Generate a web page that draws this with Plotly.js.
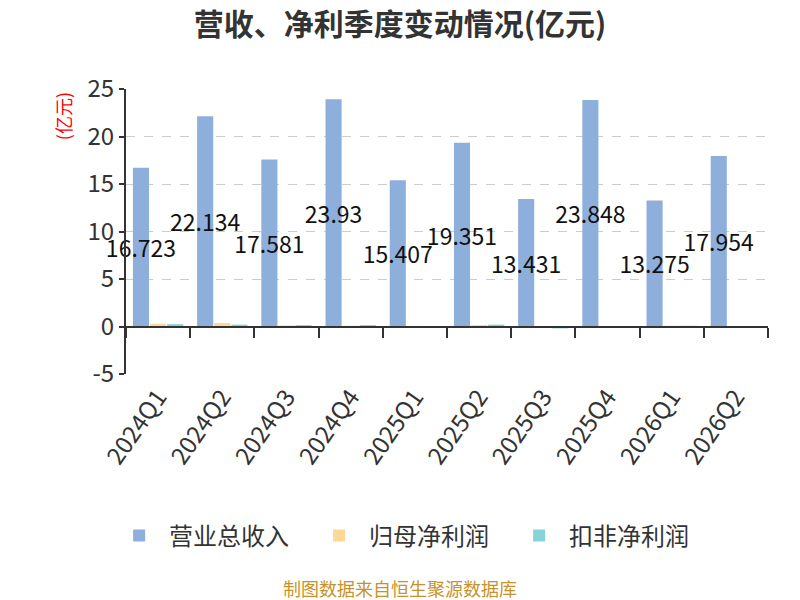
<!DOCTYPE html>
<html>
<head>
<meta charset="utf-8">
<script src="https://cdn.plot.ly/plotly-3.0.1.min.js"></script>
<style>
  html, body { margin: 0; padding: 0; background: #fff; }
  #chart { width: 800px; height: 600px; }
</style>
</head>
<body>
<div id="chart"></div>
<script>
// quarters and values (亿元)
const quarters = ['2024Q1', '2024Q2', '2024Q3', '2024Q4', '2025Q1', '2025Q2', '2025Q3', '2025Q4', '2026Q1', '2026Q2'];
const revenue = [16.723, 22.134, 17.581, 23.93, 15.407, 19.351, 13.431, 23.848, 13.275, 17.954];
const netProfit = [0.28, 0.36, 0.12, 0.08, 0.06, 0.15, -0.15, 0.05, 0.08, 0.02];
const deductedProfit = [0.25, 0.2, 0.15, 0.15, -0.05, 0.2, -0.2, -0.1, 0.08, 0.05];
const yTicks = [-5, 0, 5, 10, 15, 20, 25];
const yTickText = ['-5', '0', '5', '10', '15', '20', '25'];

const font = '"Noto Sans CJK SC", "Noto Sans", sans-serif';

const data = [
  {
    type: 'bar', name: '营业总收入', x: quarters, y: revenue,
    marker: { color: '#8eaedc' },
    text: revenue.map(String), textposition: 'inside', insidetextanchor: 'middle',
    constraintext: 'none', textangle: 0,
    textfont: { color: '#111', size: 23, family: font },
    cliponaxis: false
  },
  {
    type: 'bar', name: '归母净利润', x: quarters, y: netProfit,
    marker: { color: '#fdd898' }
  },
  {
    type: 'bar', name: '扣非净利润', x: quarters, y: deductedProfit,
    marker: { color: '#87d4d8' }
  }
];

const layout = {
  width: 800, height: 600,
  paper_bgcolor: '#fff', plot_bgcolor: '#fff',
  font: { family: font, color: '#333' },
  margin: { l: 126, r: 32, t: 89, b: 226 },
  title: {
    text: '<b>营收、净利季度变动情况(亿元)</b>',
    font: { size: 30, color: '#333', family: font },
    x: 0.5, xanchor: 'center', y: 0.96, yanchor: 'middle'
  },
  barmode: 'group', bargap: 0.2, bargroupgap: 0.06,
  xaxis: {
    type: 'category', categoryarray: quarters,
    anchor: 'free', position: 5 / 30,
    showline: true, linecolor: '#333', linewidth: 2,
    ticks: 'outside', tickson: 'boundaries', ticklen: 10, tickcolor: '#333', tickwidth: 2,
    tickangle: -55, tickfont: { size: 24, color: '#333' },
    ticklabelstandoff: 46,
    showgrid: false, zeroline: false
  },
  yaxis: {
    range: [-5, 25], tickmode: 'array', tickvals: yTicks, ticktext: yTickText,
    showline: true, linecolor: '#333', linewidth: 2,
    ticks: 'outside', ticklen: 5, tickcolor: '#333', tickwidth: 2,
    tickfont: { size: 24, color: '#333' },
    showgrid: true, gridcolor: '#ccc', griddash: 'dash', gridwidth: 1,
    zeroline: false
  },
  showlegend: true,
  legend: {
    orientation: 'h', x: 0.441, xanchor: 'center', y: -0.568, yanchor: 'middle',
    font: { size: 24, color: '#333' }, itemwidth: 50,
    entrywidth: 135, entrywidthmode: 'pixels'
  },
  annotations: [
    {
      text: '(亿元)', xref: 'paper', yref: 'paper', x: -0.098, y: 0.905,
      xanchor: 'center', yanchor: 'middle', textangle: -90, showarrow: false,
      font: { size: 18, color: '#f00' }
    },
    {
      text: '制图数据来自恒生聚源数据库', xref: 'paper', yref: 'paper', x: 0.427, y: -0.75,
      xanchor: 'center', yanchor: 'middle', showarrow: false,
      font: { size: 18, color: '#c8922a' }
    }
  ]
};

Plotly.newPlot('chart', data, layout, { displayModeBar: false, staticPlot: true });
</script>
</body>
</html>
